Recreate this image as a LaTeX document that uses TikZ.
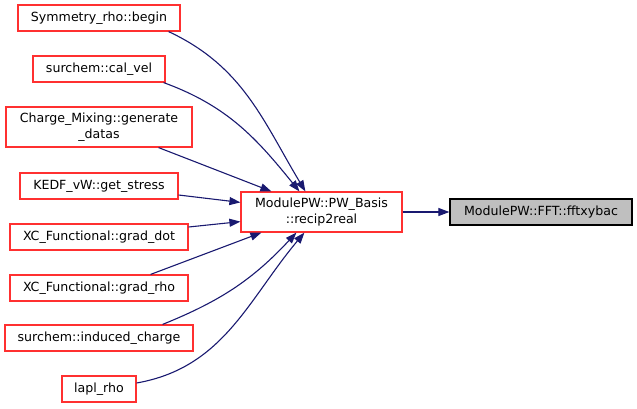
\documentclass[tikz,border=0pt]{standalone}
\usepackage{fontspec}
\setmainfont{DejaVu Sans}
\usetikzlibrary{arrows.meta}

\definecolor{edgeblue}{RGB}{25,25,112}
\definecolor{boxred}{RGB}{255,48,48}
\definecolor{boxgray}{RGB}{191,191,191}

\begin{document}
\begin{tikzpicture}[x=1pt, y=1pt, font=\fontsize{12.6}{15.5}\selectfont,
  fn/.style={draw=boxred, line width=1.2pt, fill=white, inner sep=0pt, minimum height=26pt, align=center},
  cur/.style={draw=black, line width=1.2pt, fill=boxgray, inner sep=0pt, minimum height=26pt},
  call/.style={draw=edgeblue, line width=1.1pt, -{Triangle[length=11pt,width=8pt]}}]
  \useasboundingbox (0,0) rectangle (637,-408);
  % callers
  \node[fn, minimum width=162pt] (sym) at (99,-18) {Symmetry\_rho::begin};
  \node[fn, minimum width=132pt] (calvel) at (99,-69) {surchem::cal\_vel};
  \node[fn, minimum width=186pt, minimum height=40pt] (chgmix) at (99,-127) {Charge\_Mixing::generate\\\_datas};
  \node[fn, minimum width=158pt] (kedf) at (99,-186) {KEDF\_vW::get\_stress};
  \node[fn, minimum width=178pt] (graddot) at (99,-237) {XC\_Functional::grad\_dot};
  \node[fn, minimum width=178pt] (gradrho) at (99,-288) {XC\_Functional::grad\_rho};
  \node[fn, minimum width=188pt] (induced) at (99,-338) {surchem::induced\_charge};
  \node[fn, minimum width=74pt] (laplrho) at (99,-389) {lapl\_rho};
  % middle and current function
  \node[fn, minimum width=161pt, minimum height=40pt] (recip) at (321.5,-212) {ModulePW::PW\_Basis\\::recip2real};
  \node[cur, minimum width=182pt] (fftxy) at (541,-212) {ModulePW::FFT::fftxybac};
  % calls
  \draw[call] ([xshift=-12pt]sym.south east) to[out=-25, in=121] ([xshift=65pt]recip.north west);
  \draw[call] ([xshift=-2pt]calvel.south east) to[out=-20, in=129] ([xshift=59pt]recip.north west);
  \draw[call] ([xshift=-34pt]chgmix.south east) -- ([xshift=31pt]recip.north west);
  \draw[call] ([yshift=-9pt]kedf.east) -- ([yshift=-11pt]recip.north west);
  \draw[call] ([yshift=10pt]graddot.east) -- ([yshift=11pt]recip.south west);
  \draw[call] ([xshift=-38pt]gradrho.north east) -- ([xshift=21pt]recip.south west);
  \draw[call] ([xshift=-31pt]induced.north east) to[out=22, in=-133] ([xshift=56pt]recip.south west);
  \draw[call] ([yshift=6pt]laplrho.east) to[out=10, in=-130] ([xshift=64pt]recip.south west);
  \draw[call] (recip) -- (fftxy);
\end{tikzpicture}
\end{document}
